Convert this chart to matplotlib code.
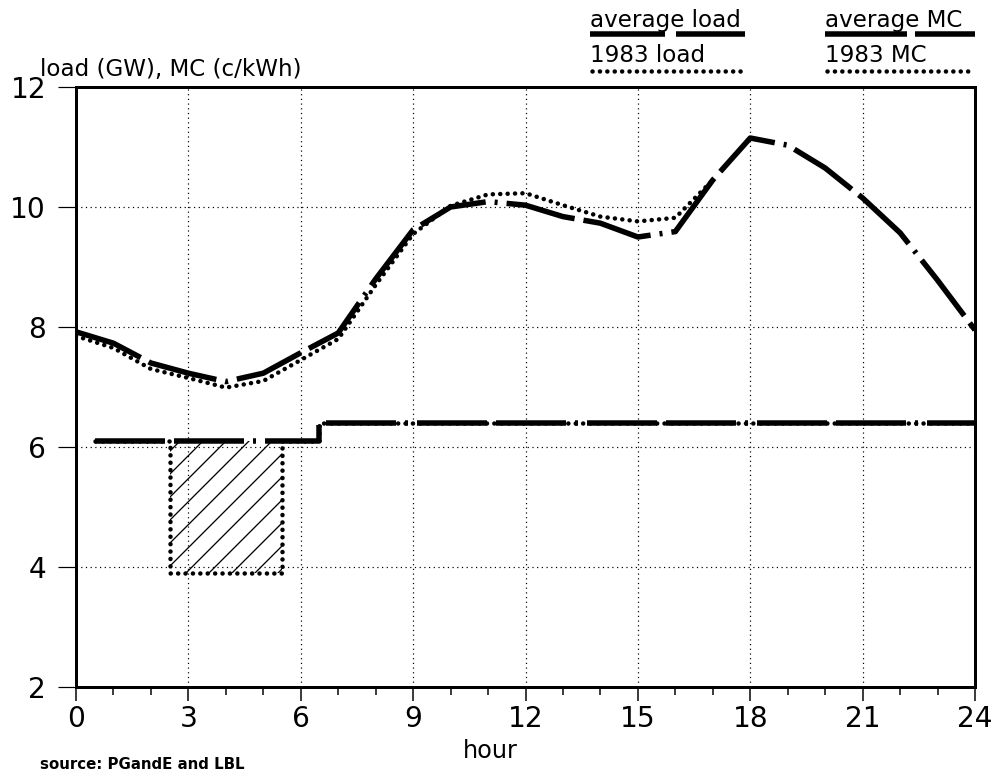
import matplotlib
matplotlib.use("Agg")
import matplotlib.pyplot as plt
from matplotlib.lines import Line2D

DPI = 138
W, H = 992, 776


def px(v):
    # pixels -> points at the output dpi
    return v * 72.0 / DPI


plt.rcParams['font.family'] = ['DejaVu Sans']
plt.rcParams['lines.scale_dashes'] = False
plt.rcParams['hatch.linewidth'] = px(1.3)

# hourly system load (GW)
hours = list(range(25))
avg_load = [7.92, 7.73, 7.40, 7.23, 7.09, 7.23, 7.57, 7.90, 8.80, 9.62,
            10.00, 10.09, 10.03, 9.84, 9.73, 9.50, 9.59, 10.45, 11.15, 11.03,
            10.65, 10.15, 9.57, 8.78, 7.95]
hours_1983 = list(range(18))
load_1983 = [7.85, 7.65, 7.30, 7.15, 6.99, 7.10, 7.45, 7.80, 8.70, 9.55,
             10.02, 10.21, 10.23, 10.03, 9.84, 9.76, 9.82, 10.45]

# marginal cost (c/kWh), step values
mc_hours = [0.5, 6.5, 24]
avg_mc = [6.1, 6.4, 6.4]
mc83_hours = [0.5, 2.5, 5.5, 6.5, 24]
mc_1983 = [6.1, 3.9, 6.1, 6.4, 6.4]

xticks = [0, 3, 6, 9, 12, 15, 18, 21, 24]
yticks = [2, 4, 6, 8, 10, 12]

LW = px(5.5)
dash_dot = (0, (px(70), px(9), px(70), px(9), px(3), px(9)))
dots = (0, (px(0.1), px(7.3)))

fig = plt.figure(figsize=(W / DPI, H / DPI), dpi=DPI)
ax = fig.add_axes([76 / W, 1 - 687 / H, (975 - 76) / W, 600 / H])

# 1983 MC dip, hatched
ax.fill_between(mc83_hours[1:3], mc_1983[1], avg_mc[0], step='post',
                facecolor='none', edgecolor='black', hatch='//', linewidth=0,
                zorder=1)

ax.plot(mc83_hours, mc_1983, drawstyle='steps-post', color='black', lw=px(4.5),
        linestyle=dots, dash_capstyle='round', zorder=2)
ax.plot(mc_hours, avg_mc, drawstyle='steps-post', color='black', lw=LW,
        linestyle=dash_dot, dash_capstyle='butt', zorder=3)

ax.plot(hours_1983, load_1983, color='black', lw=px(4.5), linestyle=dots,
        dash_capstyle='round', zorder=2)
ax.plot(hours, avg_load, color='black', lw=LW, linestyle=dash_dot,
        dash_capstyle='butt', zorder=3)

ax.set_xlim(0, 24)
ax.set_ylim(2, 12)
ax.set_xticks(xticks)
ax.set_xticks(range(25), minor=True)
ax.set_yticks(yticks)
ax.grid(True, which='major', color='black', lw=px(1.2),
        linestyle=(0, (px(1.2), px(3.5))))

for sp in ax.spines.values():
    sp.set_linewidth(px(3))
ax.tick_params(axis='x', which='major', direction='out', length=px(14),
               width=px(1.5), labelsize=px(28), pad=px(4))
ax.tick_params(axis='x', which='minor', direction='out', length=px(8),
               width=px(1.5))
ax.tick_params(axis='y', which='major', direction='out', length=px(18),
               width=px(1.2), labelsize=px(28), pad=px(12))


def ftext(x, y, s, size, **kw):
    fig.text(x / W, 1 - y / H, s, fontsize=px(size), va='baseline', **kw)


def fline(x0, x1, y, style, lw):
    fig.add_artist(Line2D([x0 / W, x1 / W], [1 - y / H, 1 - y / H],
                          color='black', lw=lw, linestyle=style,
                          dash_capstyle='round' if style is dots else 'butt'))


ftext(40, 76, 'load (GW), MC (c/kWh)', 23)
ftext(490, 758, 'hour', 24, ha='center')
ftext(40, 769, 'source: PGandE and LBL', 15, fontweight='bold')

# legend
ftext(590, 27, 'average load', 23)
fline(590, 745, 34, (0, (px(75), px(11), px(70), px(11))), LW)
ftext(590, 62, '1983 load', 23)
fline(592, 745, 71, dots, px(4.5))
ftext(825, 27, 'average MC', 23)
fline(825, 975, 34, (0, (px(82), px(8), px(65), px(11))), LW)
ftext(825, 62, '1983 MC', 23)
fline(827, 975, 71, dots, px(4.5))

fig.savefig('out.png', dpi=DPI)
